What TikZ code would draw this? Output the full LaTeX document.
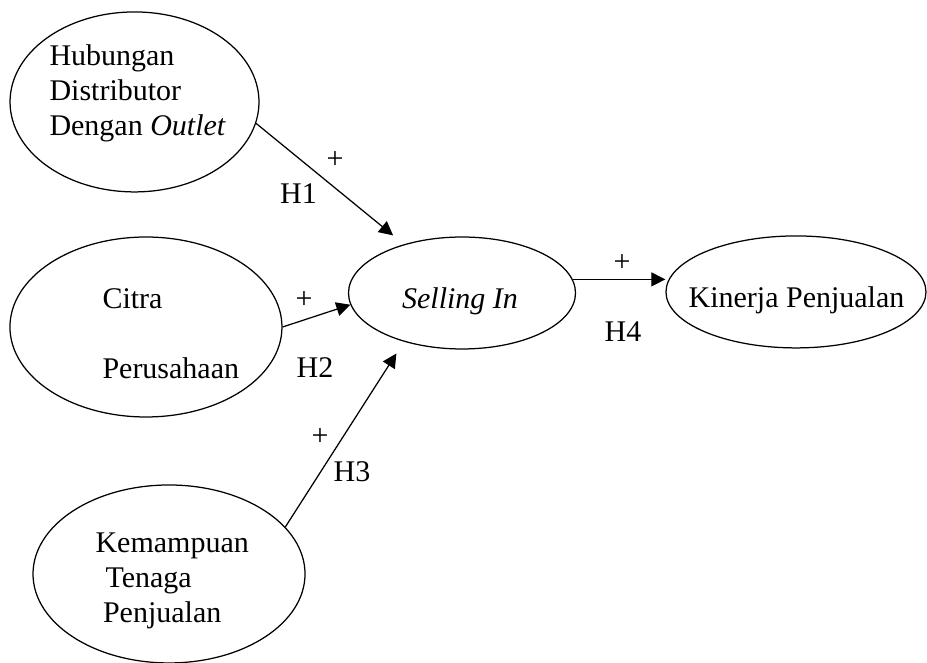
\documentclass[tikz,border=0pt]{standalone}
\usepackage{fontspec}
\setmainfont{Liberation Serif}
\usetikzlibrary{arrows.meta,shapes.geometric}
\tikzset{
  var/.style={draw, ellipse, line width=0.5pt, inner sep=0pt},
  txt/.style={inner sep=0pt, font=\fontsize{12}{14}\selectfont, align=left},
  sign/.style={inner sep=0pt, font=\fontsize{12}{14}\selectfont},
  link/.style={line width=0.5pt, -{Triangle[length=5.6pt,width=5.6pt]}}
}

\begin{document}
\begin{tikzpicture}
		%%%%% START %%%%%
		\useasboundingbox (0,0) rectangle (13.032,9.320);
		
		\node[var, minimum width=3.500cm, minimum height=2.530cm] (hub) at (1.891,7.887) {};
		\node[var, minimum width=3.824cm, minimum height=2.530cm] (cit) at (2.052,4.723) {};
		\node[var, minimum width=3.824cm, minimum height=2.502cm] (kem) at (2.376,1.251) {};
		\node[var, minimum width=3.191cm, minimum height=1.574cm] (sell) at (6.495,5.201) {};
		\node[var, minimum width=3.655cm, minimum height=1.574cm] (kin) at (11.190,5.216) {};
		
		\node[txt, anchor=north west] (hubtxt) at (0.689,8.695) {Hubungan\\Distributor\\Dengan \textit{Outlet}};
		\node[txt, anchor=north west] (cittxt) at (1.434,5.276) {Citra\\[14pt]Perusahaan};
		\node[txt, anchor=north west] (kemtxt) at (1.336,1.842) {Kemampuan\\\hspace*{4pt}Tenaga\\\hspace*{3pt}Penjualan};
		\node[txt, anchor=base] (selltxt) at (6.467,4.977) {\textit{Selling In}};
		\node[txt, anchor=base] (kintxt) at (11.197,4.991) {Kinerja Penjualan};
		
		\draw[link, shorten >=5.6pt] (hub.-10) -- (sell.140);
		\draw[link] (cit.east) -- (sell.186);
		\draw[link, shorten >=5.6pt] (kem.22) -- (sell.220);
		\draw[link] (sell.7) -- (sell.7 -| kin.west);
		
		\node[sign] (p1) at (4.709,7.071) {+};
		\node[sign] (h1) at (4.196,6.593) {H1};
		\node[sign] (p2) at (4.274,5.103) {+};
		\node[sign] (h2) at (4.428,4.147) {H2};
		\node[sign] (p3) at (4.499,3.177) {+};
		\node[sign] (h3) at (4.948,2.685) {H3};
		\node[sign] (p4) at (8.744,5.623) {+};
		\node[sign] (h4) at (8.758,4.653) {H4};
		%%%%% END %%%%%
\end{tikzpicture}
\end{document}
